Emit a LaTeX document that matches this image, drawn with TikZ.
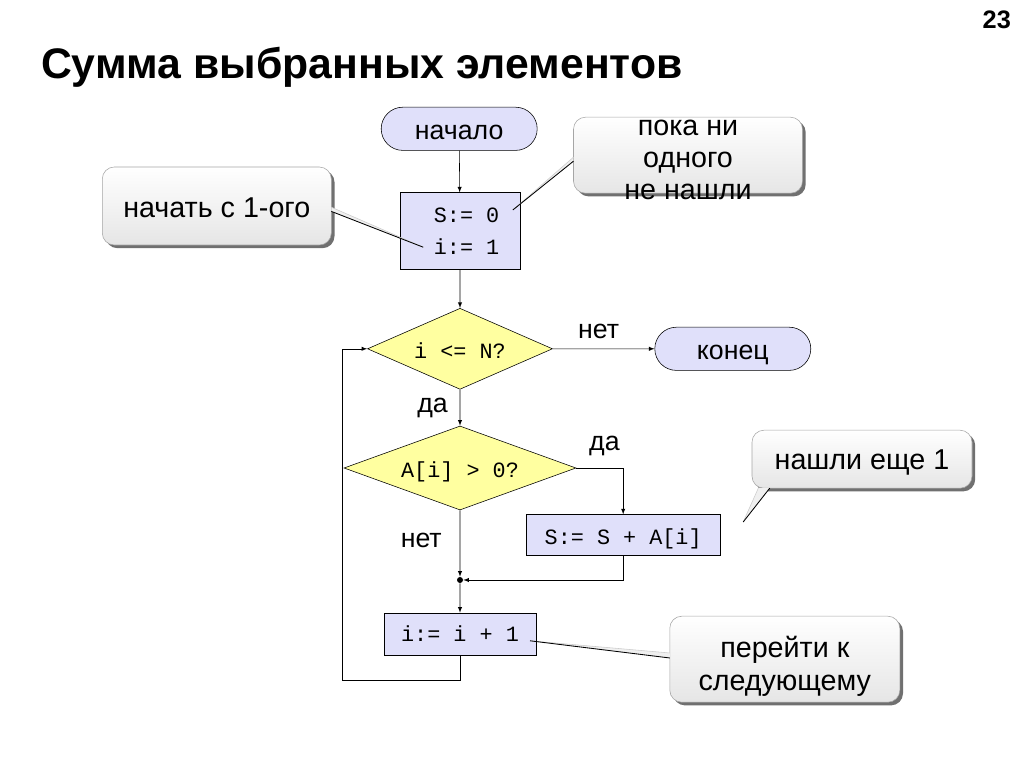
\documentclass[tikz,border=0pt]{standalone}
\usepackage{fontspec}
\setmainfont{Liberation Sans}
\setmonofont{Liberation Mono}
\usetikzlibrary{shapes.geometric,shapes.misc,shadows}

\definecolor{blockfill}{RGB}{224,224,250}
\definecolor{condfill}{RGB}{255,255,160}

\begin{document}
\begin{tikzpicture}[scale=0.2, >=latex]
\tikzstyle{every node}+=[inner sep=0pt]
\tikzstyle{term}=[rounded rectangle, draw=black, fill=blockfill, minimum width=3.9cm, minimum height=1.08cm, text height=15pt, text depth=0pt, font=\fontsize{19}{22}\selectfont]
\tikzstyle{block}=[rectangle, draw=black, fill=blockfill, align=center, font=\fontsize{15.5}{22.5}\selectfont\ttfamily]
\tikzstyle{cond}=[diamond, draw=black, fill=condfill, text height=14pt, text depth=0pt, font=\fontsize{15.5}{18}\selectfont\ttfamily]
\tikzstyle{lbl}=[font=\fontsize{19}{22}\selectfont]
\tikzstyle{note}=[rectangle, rounded corners=0.3cm, draw=gray!70, top color=white, bottom color=gray!20, drop shadow={shadow xshift=0.08cm, shadow yshift=-0.08cm, fill=black!70, opacity=0.8}, align=center, font=\fontsize{20.4}{23}\selectfont]
\tikzstyle{notetext}=[align=center, font=\fontsize{20.4}{23}\selectfont]
\tikzstyle{tailfill}=[fill=gray!12]
\tikzstyle{tailtop}=[draw=gray!40]
\tikzstyle{tailbot}=[draw=black, line width=0.6pt]
\useasboundingbox (0,0) rectangle (128,-96);
% title
\node [anchor=west, font=\fontsize{30.4}{36}\selectfont\bfseries] (title) at (5.1,-8.4) {Сумма выбранных элементов};
\node [font=\fontsize{18}{21}\selectfont\bfseries] (page) at (124.6,-2.5) {23};
% flowchart
\node [term] (start) at (57.4,-16.1) {начало};
\node [block, minimum width=3cm, minimum height=1.925cm] (init) at (57.5,-28.9) {~S:= 0\\~i:= 1};
\node [cond, aspect=2.3, minimum width=4.625cm, minimum height=2.025cm] (check) at (57.5,-43.6) {i <= N?};
\node [term] (stop) at (91.6,-43.6) {конец};
\node [cond, aspect=2.7, minimum width=5.8cm, minimum height=2.1cm] (pos) at (57.5,-58.5) {A[i] > 0?};
\node [block, text height=13pt, text depth=0pt, minimum width=4.85cm, minimum height=1.025cm] (add) at (77.9,-66.9) {S:= S + A[i]};
\node [circle, fill=black, minimum size=0.15cm] (join) at (57.5,-72.5) {};
\node [block, text height=11pt, text depth=0pt, minimum width=3.8cm, minimum height=1.05cm] (inc) at (57.5,-79.25) {i:= i + 1};
\coordinate (back) at (42.75,-85);
\draw [->] (start) -- (init);
\draw [->] (init) -- (check);
\draw [->] (check) -- node [lbl, pos=0.45, above=0.25cm] {нет} (stop);
\draw [->] (check) -- node [lbl, left=0.3cm] {да} (pos);
\draw [->] (pos) -| node [lbl, pos=0.3, above=0.3cm] {да} (add);
\draw [->] (pos) -- node [lbl, pos=0.45, left=0.45cm] {нет} (join);
\draw [->] (add) |- (join);
\draw [->] (join) -- (inc);
\draw [->] (inc) |- (back) |- (check);
% callouts
\node [note, text height=16pt, text depth=0pt, minimum width=5.725cm, minimum height=1.95cm] (c1) at (27.1,-25.75) {начать с 1-ого};
\coordinate (a1) at ([xshift=-1pt,yshift=-0.15cm]c1.east);
\coordinate (b1) at ([xshift=-1pt,yshift=-0.675cm]c1.east);
\coordinate (t1) at (52.9,-30.9);
\fill [tailfill] (a1) -- (t1) -- (b1);
\draw [tailtop] (a1) -- (t1);
\draw [tailbot] (b1) -- (t1);
\node [note, minimum width=5.725cm, minimum height=1.9cm] (c2) at (86,-19.4) {};
\node [notetext] (c2text) at (86,-20) {пока ни\\одного\\не нашли};
\coordinate (a2) at ([xshift=1pt,yshift=-0.25cm]c2.west);
\coordinate (b2) at ([xshift=1pt,yshift=-0.75cm]c2.west);
\coordinate (t2) at (64.1,-26.25);
\fill [tailfill] (a2) -- (t2) -- (b2);
\draw [tailtop] (a2) -- (t2);
\draw [tailbot] (b2) -- (t2);
\node [note, text height=14pt, text depth=0pt, minimum width=5.5cm, minimum height=1.45cm] (c3) at (107.75,-57.4) {нашли еще 1};
\coordinate (a3) at ([xshift=0.825cm,yshift=1pt]c3.south west);
\coordinate (b3) at ([xshift=2.25cm,yshift=1pt]c3.south west);
\coordinate (t3) at (92.9,-65.25);
\fill [tailfill] (a3) -- (t3) -- (b3);
\draw [tailtop] (a3) -- (t3);
\draw [tailbot] (b3) -- (t3);
\node [note, minimum width=5.75cm, minimum height=2.15cm] (c4) at (98.1,-82.4) {};
\node [notetext] (c4text) at (98.1,-83.3) {перейти к\\следующему};
\coordinate (a4) at ([xshift=1pt,yshift=0.775cm]c4.west);
\coordinate (b4) at ([xshift=1pt,yshift=0.15cm]c4.west);
\coordinate (t4) at (66.25,-80.1);
\fill [tailfill] (a4) -- (t4) -- (b4);
\draw [tailtop] (a4) -- (t4);
\draw [tailbot] (b4) -- (t4);
\end{tikzpicture}
\end{document}
